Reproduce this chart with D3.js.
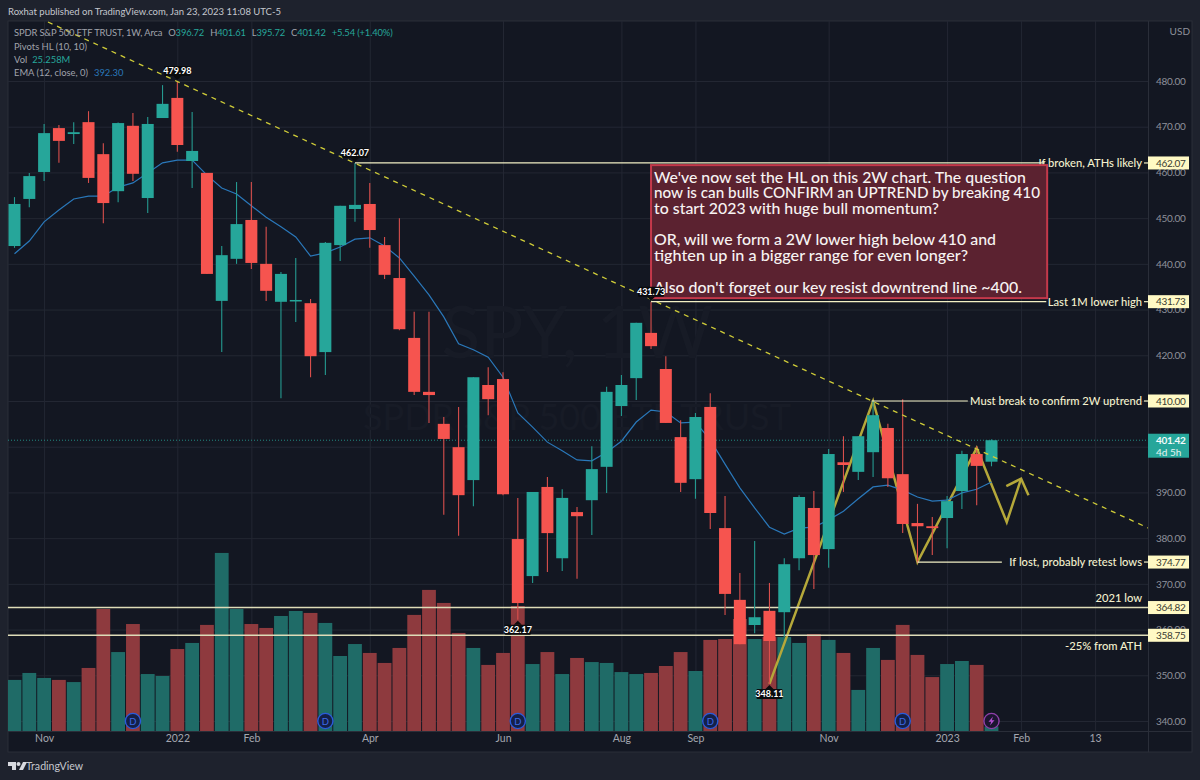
<!DOCTYPE html>
<html><head><meta charset="utf-8">
<script src="https://cdnjs.cloudflare.com/ajax/libs/d3/7.8.5/d3.min.js"></script>
<style>html,body{margin:0;padding:0;background:#1e222d}svg{display:block}text{font-family:Lato,"Noto Sans",sans-serif}</style>
</head><body><div id="c"></div>
<script>
const open=[443.9,454.2,460.1,469.7,468.4,471.0,464.0,455.9,470.2,454.4,471.9,476.3,462.5,459.9,431.9,441.1,449.6,440.0,431.7,431.9,431.4,420.7,444.1,452.0,453.1,444.1,436.9,423.8,412.0,405.0,399.9,392.7,413.5,414.8,379.8,371.7,391.2,375.6,385.7,388.3,395.6,408.9,415.0,424.9,417.0,402.1,392.9,408.7,382.2,366.5,361.0,364.1,363.8,375.6,386.6,377.6,396.6,394.5,398.8,404.1,394.0,383.3,382.6,384.4,390.3,398.4,396.72];
const high=[454.6,459.9,470.6,470.4,471.0,473.4,466.4,470.9,473.0,472.1,479.1,479.98,473.2,459.9,443.9,457.9,457.9,448.1,438.2,441.3,432.3,444.8,452.7,462.07,457.7,445.9,450.0,429.5,429.5,406.5,408.7,415.2,417.4,416.3,388.8,390.1,393.4,390.7,386.8,400.1,413.1,415.7,427.1,431.73,419.8,405.8,407.4,411.7,389.2,372.4,379.4,370.2,375.6,389.4,390.3,399.5,402.3,402.3,410.0,405.0,410.4,387.5,384.6,389.2,399.1,400.1,401.61];
const low=[443.5,452.4,458.1,462.1,466.2,457.7,448.9,453.5,458.1,451.1,471.9,464.5,456.6,437.8,420.7,440.0,438.9,431.9,410.6,427.3,415.2,415.7,440.6,449.2,443.5,436.7,425.5,411.3,405.2,385.1,380.5,387.0,406.9,389.4,362.17,370.2,372.6,372.8,371.1,380.7,389.9,406.7,410.2,421.4,405.2,390.1,388.6,382.0,363.2,356.8,359.2,348.11,358.4,373.0,368.9,373.5,390.1,392.7,393.4,391.2,381.1,374.6,376.3,377.8,386.4,387.2,395.72];
const close=[453.1,459.2,468.6,466.9,468.8,458.8,453.3,470.8,459.7,470.6,475.0,466.0,464.7,437.8,441.9,448.7,440.2,434.1,437.8,432.1,419.8,444.6,452.7,452.9,447.4,437.6,425.7,412.0,411.3,401.7,389.4,415.2,410.4,389.6,365.8,390.1,381.1,388.8,384.8,395.1,412.0,413.5,427.1,422.0,405.2,392.1,406.5,385.5,367.8,356.8,362.7,357.5,374.3,389.0,376.3,398.4,396.0,402.3,406.9,393.1,383.1,382.6,382.2,388.1,398.4,395.8,401.42];
const volume=[286,325,297,286,274,353,683,442,599,319,308,459,493,594,997,683,599,577,644,672,661,605,420,487,437,381,465,650,790,717,549,465,370,437,700,375,442,319,409,386,381,330,319,325,364,442,336,510,515,627,515,526,526,493,543,510,437,230,465,398,594,426,302,375,392,370,25.258];
const ema=[442.2,445.0,449.2,451.8,454.2,454.8,454.8,456.8,457.7,459.9,462.1,462.7,462.7,459.4,456.6,455.3,452.7,450.2,448.1,445.9,441.7,442.4,443.7,445.4,445.7,443.9,441.3,437.3,433.2,428.4,422.5,421.2,419.6,415.2,407.4,404.3,401.0,399.1,397.1,396.9,398.8,401.2,405.4,408.0,407.6,405.2,405.4,401.5,396.2,391.0,386.6,382.4,380.9,382.2,382.4,384.0,385.9,388.6,391.2,391.6,390.5,389.0,388.1,388.3,389.9,390.7,392.3];
const priceTicks=[340,350,360,370,380,390,400,410,420,430,440,450,460,470,480];
const timeTickBars=[2,11,16,24,33,41,46,55,63,68,73];
const timeTickLabels=["Nov","2022","Feb","Apr","Jun","Aug","Sep","Nov","2023","Feb","13"];
const dividendBars=[8,21,34,47,60];
const pivots=[{i:11,p:479.98,up:true,t:"479.98"},{i:23,p:462.07,up:true,t:"462.07"},{i:43,p:431.73,up:true,t:"431.73"},{i:34,p:362.17,up:false,t:"362.17"},{i:51,p:348.11,up:false,t:"348.11"}];
const levels=[
 {p:462.07,from:23,to:69.6,label:"If broken, ATHs likely",tag:"462.07"},
 {p:431.73,from:43,to:69.7,label:"Last 1M lower high",tag:"431.73"},
 {p:410.00,from:57.9,to:64.4,label:"Must break to confirm 2W uptrend",tag:"410.00"},
 {p:374.77,from:61,to:66.7,label:"If lost, probably retest lows",tag:"374.77"}];
const fullLevels=[{p:364.82,label:"2021 low",tag:"364.82",dy:-9.5},{p:358.75,label:"-25% from ATH",tag:"358.75",dy:10.5}];
const trend=[[2.26,492.9],[76.6,382.2]];
const zigzag=[[51,348.11],[58,410],[61,374.77],[65,399.7],[67.03,383.5],[68,393.0]];
const arrowWings=[[67,391.4],[68,393.0],[68.5,389.4]];
const noteBox={i0:43,i1:69.76,p0:461.6,p1:432.5};
const noteLines=["We've now set the HL on this 2W chart. The question","now is can bulls CONFIRM an UPTREND by breaking 410","to start 2023 with huge bull momentum?","","OR, will we form a 2W lower high below 410 and","tighten up in a bigger range for even longer?","","Also don't forget our key resist downtrend line ~400."];
const noteLineEnds=[1026,1040,939,null,996,968,null,1022];

const W=1200,H=780,L=8,T=21,R=1148,RR=1192,B=731,BB=752;
const GREEN="#26a69a",RED="#f6544f",CREAM="#fff9c4";
const FONT='Lato,"Noto Sans",sans-serif';
const svg=d3.select("#c").append("svg").attr("width",W).attr("height",H);
const x=d3.scaleLinear().domain([0,66]).range([14.5,991.5]);
const y=d3.scaleLinear().domain([480,340]).range([81,721]);
const yv=d3.scaleLinear().domain([0,1000]).range([B,B-178.6]);
const bars=d3.range(open.length);

svg.append("rect").attr("width",W).attr("height",H).attr("fill","#1e222d");
svg.append("rect").attr("x",L).attr("y",T).attr("width",RR-L).attr("height",BB-T).attr("fill","#131722").attr("stroke","#2a2e39");
const defs=svg.append("defs");
defs.append("clipPath").attr("id","pane").append("rect").attr("x",L).attr("y",T).attr("width",R-L).attr("height",B-T);

// grid
const grid=svg.append("g").attr("stroke","#232733").attr("stroke-width",1);
grid.selectAll(".h").data(priceTicks).join("line").attr("x1",L).attr("x2",R).attr("y1",d=>y(d)+.5).attr("y2",d=>y(d)+.5);
grid.selectAll(".v").data(timeTickBars).join("line").attr("x1",d=>x(d)+.5).attr("x2",d=>x(d)+.5).attr("y1",T).attr("y2",B);
svg.append("line").attr("x1",R+.5).attr("x2",R+.5).attr("y1",T).attr("y2",BB).attr("stroke","#2a2e39");
svg.append("line").attr("x1",L).attr("x2",RR).attr("y1",B+.5).attr("y2",B+.5).attr("stroke","#2a2e39");

// watermark
svg.append("text").attr("x",577).attr("y",358).attr("text-anchor","middle").attr("font-size",72).attr("fill","#171b26").text("SPY, 1W");
svg.append("text").attr("x",577).attr("y",430).attr("text-anchor","middle").attr("font-size",36).attr("fill","#171b26").text("SPDR S&P 500 ETF TRUST");

const pane=svg.append("g").attr("clip-path","url(#pane)");
// volume
pane.append("g").selectAll("rect").data(bars).join("rect")
 .attr("x",i=>x(i)-6.9).attr("width",13.8).attr("y",i=>yv(volume[i])).attr("height",i=>B-yv(volume[i]))
 .attr("fill",i=>close[i]>=open[i]?"#1f6b67":"#8e3a3e");
// last price dotted line
pane.append("line").attr("x1",L).attr("x2",R).attr("y1",y(close[66])).attr("y2",y(close[66])).attr("stroke",GREEN).attr("stroke-opacity",.8).attr("stroke-dasharray","1 2");
// zigzag
const ln=d3.line().x(d=>x(d[0])).y(d=>y(d[1]));
pane.append("path").attr("d",ln(zigzag)).attr("fill","none").attr("stroke","#b5a83a").attr("stroke-width",2.5);
pane.append("path").attr("d",ln(arrowWings)).attr("fill","none").attr("stroke","#b5a83a").attr("stroke-width",2.5);
// horizontal full levels
pane.selectAll(".fl").data(fullLevels).join("line").attr("x1",L).attr("x2",R).attr("y1",d=>y(d.p)).attr("y2",d=>y(d.p)).attr("stroke","#dedcb8").attr("stroke-width",1.6);
// EMA
pane.append("path").attr("d",d3.line().x((d,i)=>x(i)).y(d=>y(d))(ema)).attr("fill","none").attr("stroke","#2a78ba").attr("stroke-width",1.2);
// candles
const cg=pane.append("g");
cg.selectAll(".wick").data(bars).join("line").attr("x1",i=>x(i)).attr("x2",i=>x(i)).attr("y1",i=>y(high[i])).attr("y2",i=>y(low[i]))
 .attr("stroke",i=>close[i]>=open[i]?"#259a90":"#d94f4c").attr("stroke-width",1.1);
cg.selectAll(".body").data(bars).join("rect").attr("x",i=>x(i)-6).attr("width",12)
 .attr("y",i=>y(Math.max(open[i],close[i]))).attr("height",i=>Math.max(1.5,Math.abs(y(open[i])-y(close[i]))))
 .attr("fill",i=>close[i]>=open[i]?GREEN:RED);
// trend
pane.append("path").attr("d",ln(trend)).attr("fill","none").attr("stroke","#cfcc38").attr("stroke-width",1.3).attr("stroke-dasharray","5 5");
// level lines
svg.selectAll(".lv").data(levels).join("line").attr("x1",d=>x(d.from)).attr("x2",d=>x(d.to)).attr("y1",d=>y(d.p)).attr("y2",d=>y(d.p)).attr("stroke","#f2efc4").attr("stroke-width",1.2);
svg.selectAll(".ds").data(levels).join("line").attr("x1",1144).attr("x2",R).attr("y1",d=>y(d.p)).attr("y2",d=>y(d.p)).attr("stroke","#f2efc4").attr("stroke-width",1.2);
const lvlText=svg.append("g").attr("fill","#f4f1cf").attr("font-size",11.2).attr("font-weight",500).attr("text-anchor","end");
lvlText.selectAll(".a").data(levels).join("text").attr("x",1142).attr("y",d=>y(d.p)+4).text(d=>d.label);
lvlText.selectAll(".b").data(fullLevels).join("text").attr("x",1142).attr("y",d=>y(d.p)+d.dy+4).text(d=>d.label);
// note
const nx0=x(noteBox.i0);
svg.append("rect").attr("x",nx0).attr("y",y(noteBox.p0)).attr("width",x(noteBox.i1)-nx0).attr("height",y(noteBox.p1)-y(noteBox.p0))
 .attr("fill","#5b2230").attr("stroke","#c4394b").attr("stroke-width",2);
svg.append("g").selectAll("text").data(noteLines.map((t,i)=>({t,i,end:noteLineEnds[i]})).filter(d=>d.t)).join("text")
 .attr("x",nx0+3).attr("y",d=>y(noteBox.p0)+17.5+d.i*15.7).attr("font-size",15.8).attr("font-weight",500).attr("fill","#f7f3f2")
 .attr("textLength",d=>d.end-nx0-3).attr("lengthAdjust","spacingAndGlyphs").text(d=>d.t);

// pivots
const pv=svg.append("g").selectAll("g").data(pivots).join("g").attr("transform",d=>`translate(${x(d.i)},${y(d.p)})`);
pv.append("path").attr("d",d=>d.up?"M-4,-5 L0,-1 L4,-5 Z":"M-4,5 L0,1 L4,5 Z").attr("fill","#0a0b0d");
pv.append("rect").attr("x",-13).attr("y",d=>d.up?-15:5).attr("width",26).attr("height",10).attr("rx",1).attr("fill","#0a0b0d");
pv.append("text").attr("text-anchor","middle").attr("y",d=>d.up?-7:13).attr("font-size",9).attr("font-weight",700).attr("fill","#fff").text(d=>d.t);

// dividends
const dv=svg.append("g").selectAll("g").data(dividendBars).join("g").attr("transform",d=>`translate(${x(d)},721)`);
dv.append("circle").attr("r",7.6).attr("fill","#142048").attr("stroke","#2a5bdc").attr("stroke-width",1.4);
dv.append("text").attr("text-anchor","middle").attr("y",3.5).attr("font-size",9.5).attr("fill","#3d6be8").text("D");
const ev=svg.append("g").attr("transform",`translate(${x(66)},721)`);
ev.append("circle").attr("r",7.6).attr("fill","#1c1530").attr("stroke","#8e3fa8").attr("stroke-width",1.4);
ev.append("path").attr("d","M1.5,-4.5 L-3,0.8 L-0.3,0.8 L-1.5,4.5 L3,-0.8 L0.3,-0.8 Z").attr("fill","#b24fd0");

// axes
const yAxis=svg.append("g").attr("transform",`translate(${R},0)`).call(d3.axisRight(y).tickValues(priceTicks).tickFormat(d3.format(".2f")).tickSize(0).tickPadding(8));
yAxis.select(".domain").remove();
yAxis.selectAll("text").attr("fill","#8f929b").style("font-size","10px").style("letter-spacing","-0.3px").style("font-family",FONT);
const xAxis=svg.append("g").attr("transform",`translate(0,${B})`).call(d3.axisBottom(x).tickValues(timeTickBars).tickFormat((d,i)=>timeTickLabels[i]).tickSize(0).tickPadding(4));
xAxis.select(".domain").remove();
xAxis.selectAll("text").attr("fill","#a3a6af").style("font-size","10.5px").style("font-family",FONT);

// tags
const tags=svg.append("g").selectAll("g").data(levels.concat(fullLevels)).join("g").attr("transform",d=>`translate(${R},${y(d.p)})`);
tags.append("rect").attr("x",0).attr("y",-6.5).attr("width",41).attr("height",13).attr("fill",CREAM);
tags.append("text").attr("x",8).attr("y",3.6).attr("font-size",10).attr("letter-spacing",-0.3).attr("fill","#3a3a30").text(d=>d.tag);
const lp=svg.append("g").attr("transform",`translate(${R},${y(close[66])})`);
lp.append("rect").attr("x",0).attr("y",-6.5).attr("width",41).attr("height",24).attr("fill",GREEN);
lp.append("text").attr("x",8).attr("y",4).attr("font-size",10).attr("letter-spacing",-0.3).attr("font-weight",700).attr("fill","#f4fbfa").text("401.42");
lp.append("text").attr("x",8).attr("y",15.5).attr("font-size",10).attr("fill","#e4f4f2").text("4d 5h");
svg.append("text").attr("x",1190).attr("y",35).attr("text-anchor","end").attr("font-size",10).attr("fill","#8f929b").text("USD");

// header and legend
svg.append("text").attr("x",8).attr("y",15).attr("font-size",9.5).attr("fill","#c5c7cd").text("Roxhat published on TradingView.com, Jan 23, 2023 11:08 UTC-5");
const lg=svg.append("g").attr("font-size",9.4).attr("fill","#a0a3ac");
const l1=lg.append("text").attr("x",14).attr("y",36).attr("letter-spacing",-0.14);
l1.append("tspan").text("SPDR S&P 500 ETF TRUST, 1W, Arca");
[["O",0,6],["396.72",1,0],["H",0,6],["401.61",1,0],["L",0,6],["395.72",1,0],["C",0,6],["401.42",1,0],["+5.54 (+1.40%)",1,6]].forEach(([t,g,dx])=>l1.append("tspan").attr("dx",dx).attr("fill",g?GREEN:"#a0a3ac").text(t));
lg.append("text").attr("x",14).attr("y",50).text("Pivots HL (10, 10)");
const l3=lg.append("text").attr("x",14).attr("y",63).text("Vol");
l3.append("tspan").attr("dx",5).attr("fill",GREEN).text("25.258M");
const l4=lg.append("text").attr("x",14).attr("y",76).text("EMA (12, close, 0)");
l4.append("tspan").attr("dx",6).attr("fill","#2a78ba").text("392.30");

// branding
const logo=svg.append("g").attr("transform","translate(8,762)").attr("fill","#d8dae0");
logo.append("path").attr("d","M0,0 H8 V8 H4 V4 H0 Z");
logo.append("circle").attr("cx",10.5).attr("cy",2).attr("r",2);
logo.append("path").attr("d","M11,8 L15,0 H19 L15,8 Z");
svg.append("text").attr("x",26).attr("y",770).attr("font-size",10.6).attr("fill","#c5c7cd").text("TradingView");
</script></body></html>
